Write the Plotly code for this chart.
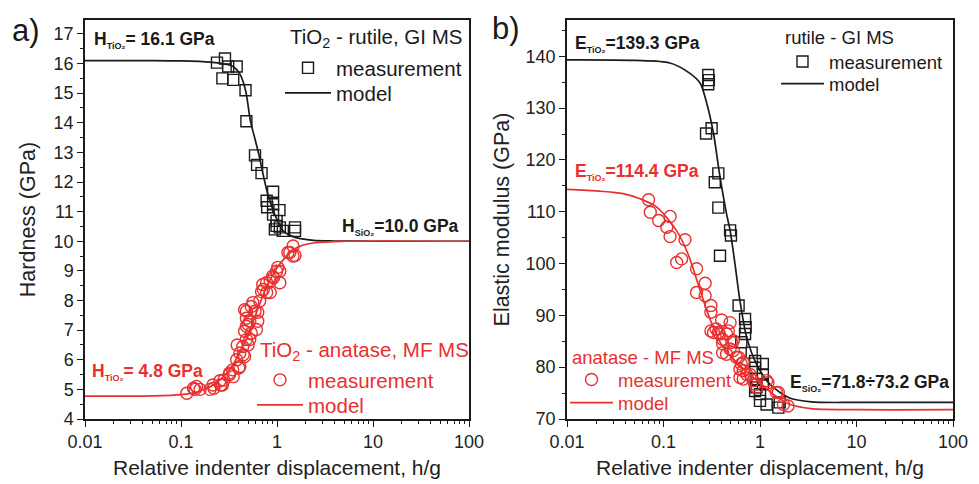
import plotly.graph_objects as go

# ---- Hardness, rutile (GI MS) ----
rut_h_x = [0.287, 0.237, 0.31, 0.38, 0.27, 0.35, 0.47, 0.48, 0.59, 0.62, 0.69, 0.91, 0.78,
           0.79, 1.06, 0.91, 0.99, 0.99, 1.07, 0.95, 1.15, 1.54, 1.54, 0.91]
rut_h_y = [16.17, 16.03, 15.9, 15.9, 15.5, 15.45, 15.1, 14.05, 12.9, 12.58, 12.3, 11.67, 11.37,
           11.15, 11.05, 10.9, 10.69, 10.52, 10.47, 10.4, 10.35, 10.35, 10.47, 11.25]
rut_h_model_x = [0.01, 0.05, 0.1, 0.2, 0.3, 0.35, 0.41, 0.47, 0.53, 0.59, 0.65, 0.79, 0.95,
                 1.16, 1.54, 2.4, 4, 10, 100]
rut_h_model_y = [16.1, 16.1, 16.09, 16.05, 15.97, 15.9, 15.65, 15.1, 14.05, 13.45, 12.9, 11.67,
                 10.9, 10.35, 10.13, 10.03, 10.01, 10.0, 10.0]

# ---- Hardness, anatase (MF MS) ----
ana_h_x = [0.115, 0.14, 0.158, 0.2, 0.215, 0.254, 0.27, 0.32, 0.345, 0.38, 0.41, 0.385, 0.445,
           0.5, 0.48, 0.46, 0.48, 0.52, 0.46, 0.48, 0.61, 0.63, 0.56, 0.66, 0.69, 0.71, 0.78,
           0.85, 0.9, 0.99, 1.07, 1.07, 1.02, 1.3, 1.47, 1.47, 1.36, 1.54, 0.92, 0.85, 0.72,
           0.78, 0.54, 0.59, 0.48, 0.63, 0.5, 0.54, 0.52, 0.44, 0.41, 0.46, 0.4, 0.35, 0.32,
           0.28, 0.26, 0.22, 0.145, 0.135]
ana_h_y = [4.87, 5.0, 5.0, 5.0, 5.15, 5.29, 5.15, 5.5, 5.66, 6.0, 5.77, 6.5, 6.17,
           6.5, 6.68, 6.96, 7.13, 7.3, 7.69, 7.4, 7.02, 7.6, 7.93, 7.98, 8.3, 8.54, 8.6,
           8.27, 8.82, 8.99, 8.99, 8.6, 9.12, 9.62, 9.5, 9.84, 9.62, 9.52, 8.77, 8.65, 8.37,
           8.27, 7.8, 7.64, 7.64, 7.3, 7.19, 6.9, 6.68, 6.45, 6.23, 6.11, 5.72, 5.43, 5.55,
           5.32, 5.15, 5.04, 5.1, 5.04]
ana_h_model_x = [0.01, 0.05, 0.1, 0.15, 0.2, 0.25, 0.3, 0.35, 0.4, 0.48, 0.55, 0.62, 0.7,
                 0.78, 0.9, 1.0, 1.26, 1.7, 2.5, 5, 100]
ana_h_model_y = [4.77, 4.78, 4.82, 4.92, 5.08, 5.3, 5.55, 5.85, 6.2, 6.7, 7.2, 7.65, 8.1,
                 8.48, 8.85, 9.1, 9.5, 9.82, 9.95, 10.0, 10.0]

# ---- Elastic modulus, rutile (GI MS) ----
rut_e_x = [0.291, 0.295, 0.291, 0.276, 0.315, 0.37, 0.34, 0.37, 0.49, 0.5, 0.385, 0.6, 0.70,
           0.71, 0.70, 0.64, 0.82, 0.89, 1.07, 0.89, 1.07, 0.92, 1.07, 0.92, 0.89, 1.0, 1.0,
           1.17, 1.55, 1.6]
rut_e_y = [136.4, 135.4, 134.6, 125.1, 126.1, 117.4, 115.7, 110.8, 106.4, 105.4, 101.5, 91.9, 89.3,
           87.7, 86.4, 84.8, 82.8, 81.2, 80.6, 79.9, 78.6, 77.7, 76.7, 76.1, 75.4, 74.8, 73.5,
           72.8, 72.2, 73.2]
rut_e_model_x = [0.01, 0.05, 0.117, 0.188, 0.24, 0.28, 0.33, 0.38, 0.45, 0.49, 0.55, 0.62,
                 0.73, 0.92, 1.27, 2.0, 3.4, 10, 100]
rut_e_model_y = [139.3, 139.2, 138.7, 136.7, 134.8, 131.0, 125.1, 117.4, 109.6, 106.4, 100.0,
                 92.8, 85.7, 80.6, 76.7, 74.1, 73.3, 73.2, 73.2]

# ---- Elastic modulus, anatase (MF MS) ----
ana_e_x = [0.07, 0.073, 0.089, 0.117, 0.108, 0.117, 0.167, 0.137, 0.154, 0.22, 0.22, 0.27,
           0.27, 0.31, 0.31, 0.40, 0.49, 0.31, 0.35, 0.38, 0.41, 0.47, 0.51, 0.41, 0.53, 0.60,
           0.64, 0.67, 0.62, 0.79, 0.85, 0.92, 1.21, 1.55, 1.95, 0.33, 0.37, 0.45, 0.53, 0.41,
           0.49, 0.45, 0.57, 0.67, 0.62, 0.73, 0.67, 0.89, 1.17, 1.48, 1.75]
ana_e_y = [112.3, 109.9, 108.3, 109.1, 107.0, 105.2, 104.6, 100.2, 100.9, 99.0, 94.4, 96.2,
           93.8, 91.9, 90.6, 89.1, 88.6, 87.0, 87.4, 86.4, 85.4, 87.0, 84.8, 82.8, 83.2, 81.9,
           80.6, 79.3, 78.0, 78.6, 77.4, 76.1, 77.0, 75.1, 72.5, 86.7, 86.7, 86.4, 85.1, 84.5,
           83.5, 82.5, 81.9, 80.9, 79.6, 78.6, 77.7, 76.7, 77.4, 75.1, 72.8]
ana_e_model_x = [0.01, 0.038, 0.057, 0.085, 0.137, 0.18, 0.24, 0.30, 0.41, 0.62, 0.92, 1.37,
                 2.0, 3.4, 10, 100]
ana_e_model_y = [114.3, 113.5, 112.5, 110.9, 106.3, 101.8, 94.8, 89.5, 84.0, 80.3, 77.5, 74.8,
                 72.9, 72.0, 71.8, 71.8]

x_tick_vals = [0.01, 0.1, 1, 10, 100]
x_tick_text = ["0.01", "0.1", "1", "10", "100"]
x_minor_vals = [k * 10.0 ** e for e in range(-2, 2) for k in range(2, 10)]

BLACK = "#1a1a1a"
RED = "#e8302f"
FONT = "Liberation Sans, Arial, sans-serif"
W, H = 979, 484

fig = go.Figure()

# Each legend row gets its own legend box so rows can be placed independently.
# (legend name, left px, row centre px, sample width, font size)
legend_rows = []


def add_panel(xa, ya, mx, my, symbol, color, lx, ly, leg_meas, leg_model):
    fig.add_trace(go.Scatter(
        x=mx, y=my, mode="markers", name="measurement", xaxis=xa, yaxis=ya, legend=leg_meas,
        marker=dict(symbol=symbol, size=11 if "square" in symbol else 12, color=color,
                    line=dict(color=color, width=1.4)),
    ))
    fig.add_trace(go.Scatter(
        x=lx, y=ly, mode="lines", name="model", xaxis=xa, yaxis=ya, legend=leg_model,
        line=dict(color=color, width=1.7, shape="spline", smoothing=0.8),
    ))


add_panel("x", "y", rut_h_x, rut_h_y, "square-open", BLACK,
          rut_h_model_x, rut_h_model_y, "legend", "legend2")
add_panel("x", "y", ana_h_x, ana_h_y, "circle-open", RED,
          ana_h_model_x, ana_h_model_y, "legend3", "legend4")
add_panel("x2", "y2", rut_e_x, rut_e_y, "square-open", BLACK,
          rut_e_model_x, rut_e_model_y, "legend5", "legend6")
add_panel("x2", "y2", ana_e_x, ana_e_y, "circle-open", RED,
          ana_e_model_x, ana_e_model_y, "legend7", "legend8")

y_dom = [1 - 419 / H, 1 - 20 / H]

common_x = dict(
    type="log", range=[-2, 2], tickmode="array", tickvals=x_tick_vals, ticktext=x_tick_text,
    ticks="outside", ticklen=6, tickwidth=1.3, tickcolor=BLACK, automargin=False,
    showline=True, mirror=True, linecolor=BLACK, linewidth=1.5, showgrid=False, zeroline=False,
    minor=dict(tickmode="array", tickvals=x_minor_vals, ticks="outside", ticklen=3.5,
               tickwidth=1.1, tickcolor=BLACK, showgrid=False),
    tickfont=dict(family=FONT, size=18, color="#222"),
    title=dict(text="Relative indenter displacement, h/g", standoff=9,
               font=dict(family=FONT, size=21, color="#222")),
)
common_y = dict(
    ticks="outside", ticklen=6, tickwidth=1.3, tickcolor=BLACK, automargin=False,
    showline=True, mirror=True, linecolor=BLACK, linewidth=1.5, showgrid=False, zeroline=False,
    tickfont=dict(family=FONT, size=18, color="#222"),
)

fig.update_layout(
    width=W, height=H, margin=dict(l=0, r=0, t=0, b=0),
    paper_bgcolor="white", plot_bgcolor="white",
    font=dict(family=FONT, color="#222"),
    xaxis=dict(common_x, domain=[85 / W, 469 / W], anchor="y"),
    yaxis=dict(common_y, domain=y_dom, anchor="x", range=[4, 17.47], dtick=1, tick0=0,
               minor=dict(dtick=0.5, ticks="outside", ticklen=3.5, tickwidth=1.1,
                          tickcolor=BLACK, showgrid=False),
               title=dict(text="Hardness (GPa)", standoff=12,
                          font=dict(family=FONT, size=21.5, color="#222"))),
    xaxis2=dict(common_x, domain=[567 / W, 953 / W], anchor="y2"),
    yaxis2=dict(common_y, domain=y_dom, anchor="x2", range=[70, 147], dtick=10, tick0=0,
                minor=dict(dtick=5, ticks="outside", ticklen=3.5, tickwidth=1.1,
                           tickcolor=BLACK, showgrid=False),
                title=dict(text="Elastic modulus (GPa)", standoff=10,
                           font=dict(family=FONT, size=21.5, color="#222"))),
    showlegend=True,
)


def legend_box(left_px, centre_px, sample_w, size, color):
    return dict(bgcolor="rgba(0,0,0,0)", borderwidth=0, xanchor="left", yanchor="middle",
                x=(left_px - 7) / W, y=1 - centre_px / H, itemwidth=sample_w,
                font=dict(family=FONT, size=size, color=color))


fig.update_layout(
    legend=legend_box(287, 68, 46, 20.5, BLACK),
    legend2=legend_box(287, 93, 46, 20.5, BLACK),
    legend3=legend_box(259, 380, 46, 20.5, RED),
    legend4=legend_box(259, 405, 46, 20.5, RED),
    legend5=legend_box(783, 62, 43, 18.5, BLACK),
    legend6=legend_box(783, 84, 43, 18.5, BLACK),
    legend7=legend_box(572, 380, 43, 18.5, RED),
    legend8=legend_box(572, 403, 43, 18.5, RED),
)


def sub(t):
    return f"<sub><span style='font-size:9px'>{t}</span></sub>"


ann = [
    dict(text="a)", xref="paper", yref="paper", x=10 / W, y=1 - 30 / H, xanchor="left",
         yanchor="middle", font=dict(family=FONT, size=31, color=BLACK)),
    dict(text="b)", xref="paper", yref="paper", x=490 / W, y=1 - 28 / H, xanchor="left",
         yanchor="middle", font=dict(family=FONT, size=31, color=BLACK)),
    # legend headings
    dict(text="TiO<sub>2</sub> - rutile, GI MS", xref="paper", yref="paper",
         x=288 / W, y=1 - 38 / H, xanchor="left", yanchor="middle",
         font=dict(family=FONT, size=20.5, color=BLACK)),
    dict(text="TiO<sub>2</sub> - anatase, MF MS", xref="paper", yref="paper",
         x=258 / W, y=1 - 351 / H, xanchor="left", yanchor="middle",
         font=dict(family=FONT, size=20.5, color=RED)),
    dict(text="rutile - GI MS", xref="paper", yref="paper",
         x=783 / W, y=1 - 38 / H, xanchor="left", yanchor="middle",
         font=dict(family=FONT, size=18.5, color=BLACK)),
    dict(text="anatase - MF MS", xref="paper", yref="paper",
         x=570 / W, y=1 - 357 / H, xanchor="left", yanchor="middle",
         font=dict(family=FONT, size=18.5, color=RED)),
    # plateau values
    dict(text=f"<b>H{sub('TiO₂')}= 16.1 GPa</b>", xref="x domain", yref="y domain",
         x=0.018, y=0.95, xanchor="left", yanchor="middle",
         font=dict(family=FONT, size=17.5, color=BLACK)),
    dict(text=f"<b>H{sub('SiO₂')}=10.0 GPa</b>", xref="x domain", yref="y domain",
         x=0.98, y=0.482, xanchor="right", yanchor="middle",
         font=dict(family=FONT, size=17.5, color=BLACK)),
    dict(text=f"<b>H{sub('TiO₂')}= 4.8 GPa</b>", xref="x domain", yref="y domain",
         x=0.013, y=0.118, xanchor="left", yanchor="middle",
         font=dict(family=FONT, size=17.5, color=RED)),
    dict(text=f"<b>E{sub('TiO₂')}=139.3 GPa</b>", xref="x2 domain", yref="y2 domain",
         x=0.0155, y=0.94, xanchor="left", yanchor="middle",
         font=dict(family=FONT, size=17.5, color=BLACK)),
    dict(text=f"<b>E{sub('TiO₂')}=114.4 GPa</b>", xref="x2 domain", yref="y2 domain",
         x=0.0155, y=0.619, xanchor="left", yanchor="middle",
         font=dict(family=FONT, size=17.5, color=RED)),
    dict(text=f"<b>E{sub('SiO₂')}=71.8÷73.2 GPa</b>", xref="x2 domain", yref="y2 domain",
         x=0.995, y=0.09, xanchor="right", yanchor="middle",
         font=dict(family=FONT, size=17.5, color=BLACK)),
]
for a in ann:
    a["showarrow"] = False
    fig.add_annotation(**a)

fig.write_html("out.html")
